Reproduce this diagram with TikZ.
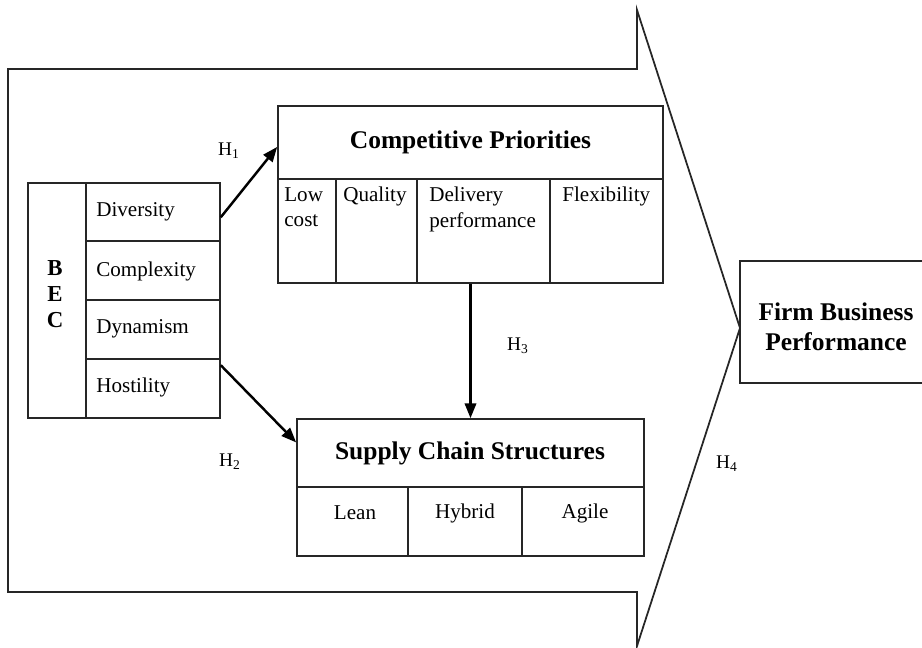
\documentclass[tikz,border=0pt]{standalone}
\usepackage{fontspec}
\setmainfont{Liberation Serif}
\usetikzlibrary{fit, arrows.meta}

\begin{document}
\begin{tikzpicture}[x = 0.02cm, y = -0.02cm,
        box/.style = {draw = black!85, line width = 0.9pt, inner sep = 0pt},
        txt/.style = {inner sep = 0pt, font = \fontsize{12}{14.6}\selectfont},
        ttl/.style = {inner sep = 0pt, font = \fontsize{14.5}{17}\selectfont\bfseries},
        hyp/.style = {inner sep = 0pt, font = \fontsize{11}{13}\selectfont},
        link/.style = {line width = 1.4pt, -{Triangle[length = 8.5pt, width = 6.5pt]}}]
        \useasboundingbox (0,0) rectangle (922,648);

        % big arrow round everything
        \draw[draw = black!85, line width = 1pt] (8,69)-- ++(629,0)-- ++(0,-59)-- (740,328)-- (637,646)-- ++(0,-54)-- (8,592)--cycle;

        % BEC block
        \node[box, fit = {(28,183) (220,418)}] (bec) {};
        \node[box, fit = {(86,183) (220,241)}] (div) {};
        \node[box, fit = {(86,241) (220,300)}] (cpx) {};
        \node[box, fit = {(86,300) (220,359)}] (dyn) {};
        \node[box, fit = {(86,359) (220,418)}] (hos) {};
        \node[inner sep = 0pt, font = \fontsize{13}{15}\selectfont\bfseries, align = center] (beclbl) at (55,294) {B\\E\\C};
        \node[txt, anchor = west] (ldiv) at (96,212) {Diversity};
        \node[txt, anchor = west] (lcpx) at (96,271) {Complexity};
        \node[txt, anchor = west] (ldyn) at (96,329) {Dynamism};
        \node[txt, anchor = west] (lhos) at (96,387) {Hostility};

        % competitive priorities
        \node[box, fit = {(278,106) (663,283)}] (cp) {};
        \node[box, fit = {(278,106) (663,179)}] (cphead) {};
        \draw[draw = black!85, line width = 0.9pt] (336,179) -- (336,283);
        \draw[draw = black!85, line width = 0.9pt] (417,179) -- (417,283);
        \draw[draw = black!85, line width = 0.9pt] (550,179) -- (550,283);
        \node[ttl] (cptitle) at (cphead) {Competitive Priorities};
        \node[txt, anchor = north west, align = left] (lowcost) at (284,187) {Low\\cost};
        \node[txt, anchor = north west] (quality) at (343,187) {Quality};
        \node[txt, anchor = north west, align = left] (delivery) at (429,187) {Delivery\\performance};
        \node[txt, anchor = north west] (flex) at (562,187) {Flexibility};

        % supply chain structures
        \node[box, fit = {(297,419) (644,556)}] (scs) {};
        \node[box, fit = {(297,419) (644,487)}] (scshead) {};
        \draw[draw = black!85, line width = 0.9pt] (408,487) -- (408,556);
        \draw[draw = black!85, line width = 0.9pt] (522,487) -- (522,556);
        \node[ttl] (scstitle) at (470,453) {Supply Chain Structures};
        \node[txt] (lean) at (355,513) {Lean};
        \node[txt] (hybrid) at (465,513) {Hybrid};
        \node[txt] (agile) at (585,513) {Agile};

        % firm performance
        \node[box, fit = {(740,261) (940,383)}] (firm) {};
        \node[ttl, align = center] (firmlbl) at (836,327) {Firm Business\\Performance};

        % hypotheses
        \draw[link] ([yshift = -3pt]div.east) -- ([yshift = -2.5pt]cphead.west);
        \draw[link] ([yshift = -4pt]hos.north east) -- ([yshift = 6pt]scshead.west);
        \draw[link] (cp.south) -- (scs.north);
        \node[hyp] (h1) at (229,151) {H\textsubscript{1}};
        \node[hyp] (h2) at (230,462) {H\textsubscript{2}};
        \node[hyp] (h3) at (518,346) {H\textsubscript{3}};
        \node[hyp] (h4) at (727,464) {H\textsubscript{4}};
\end{tikzpicture}
\end{document}
